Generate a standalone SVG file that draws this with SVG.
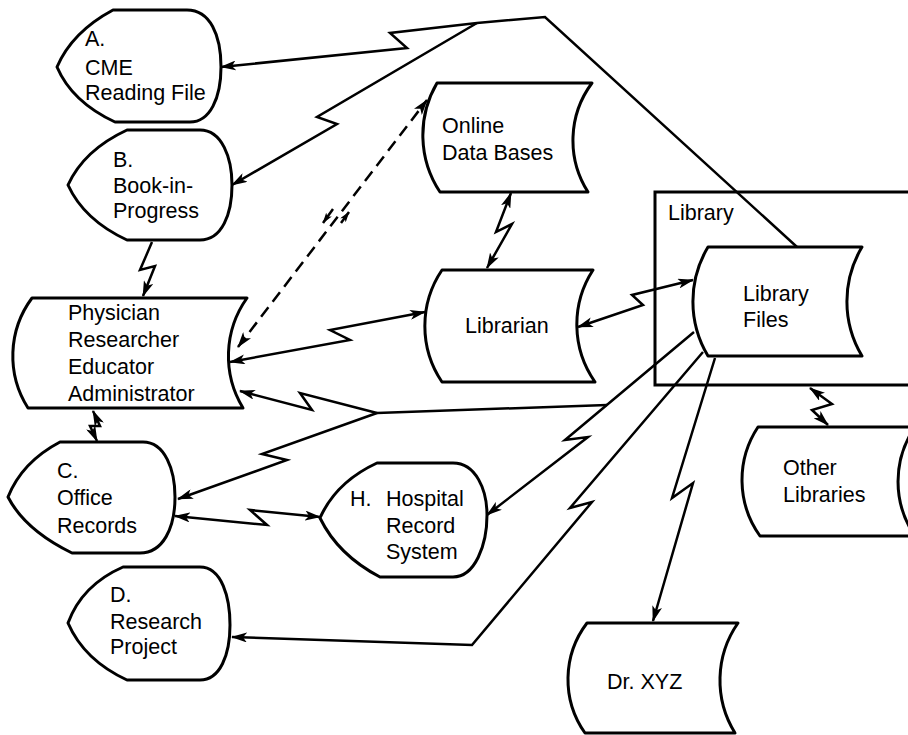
<svg xmlns="http://www.w3.org/2000/svg" width="908" height="735" viewBox="0 0 908 735">
<style>
.n{fill:#fff;stroke:#000;stroke-width:3;stroke-linejoin:round}
.box{fill:none;stroke:#000;stroke-width:3}
.c{fill:none;stroke:#000;stroke-width:2.5;stroke-linejoin:miter}
.d{stroke-dasharray:12 7}
text{font-family:"Liberation Sans",Arial,Helvetica,sans-serif;font-size:21.5px;fill:#000}
</style>
<defs>
<marker id="ah" viewBox="0 0 16 10" refX="15" refY="5" markerWidth="16" markerHeight="10" markerUnits="userSpaceOnUse" orient="auto-start-reverse"><path d="M0,0 L16,5 L0,10 L4,5 Z" fill="#000"/></marker>
<marker id="ahs" viewBox="0 0 16 10" refX="15" refY="5" markerWidth="11" markerHeight="7" markerUnits="userSpaceOnUse" orient="auto"><path d="M0,0 L16,5 L0,10 L4,5 Z" fill="#000"/></marker>
</defs>
<rect width="908" height="735" fill="#fff"/>
<g id="library">
<rect class="box" x="655" y="192" width="300" height="193"/>
<text x="668" y="220">Library</text>
</g>
<g id="connectors">
<path class="c" d="M797,247 L545,17 L477,23 L390,33 L407,48 L221,67" marker-end="url(#ah)"/>
<path class="c" d="M477,23 L317,117 L337,124 L232,185" marker-end="url(#ah)"/>
<path class="c d" d="M238,347 L427,100" marker-start="url(#ah)" marker-end="url(#ah)"/>
<path class="c" d="M333,209 L323,223" marker-end="url(#ahs)"/>
<path class="c" d="M341,223 L349,212" marker-end="url(#ahs)"/>
<path class="c" d="M230,362 L350,340 L330,330 L425,312" marker-start="url(#ah)" marker-end="url(#ah)"/>
<path class="c" d="M511,193 L496,232 L512,224 L487,268" marker-start="url(#ah)" marker-end="url(#ah)"/>
<path class="c" d="M578,327 L643,305 L632,295 L693,280" marker-start="url(#ah)" marker-end="url(#ah)"/>
<path class="c" d="M694,332 L565,440 L588,437 L487,515" marker-end="url(#ah)"/>
<path class="c" d="M607,405 L377,413"/>
<path class="c" d="M377,413 L300,393 L312,410 L240,391" marker-end="url(#ah)"/>
<path class="c" d="M377,413 L262,454 L287,460 L178,499" marker-end="url(#ah)"/>
<path class="c" d="M175,516 L267,525 L250,510 L320,517" marker-start="url(#ah)" marker-end="url(#ah)"/>
<path class="c" d="M703,352 L570,508 L592,502 L472,645 L232,637" marker-end="url(#ah)"/>
<path class="c" d="M715,358 L672,498 L693,483 L653,621" marker-end="url(#ah)"/>
<path class="c" d="M810,388 L832,404 L812,410 L828,425" marker-start="url(#ah)" marker-end="url(#ah)"/>
<path class="c" d="M152,242 L140,270 L155,266 L143,296" marker-end="url(#ah)"/>
<path class="c" d="M93,411 L100,426 L90,426 L97,441" marker-start="url(#ah)" marker-end="url(#ah)"/>
</g>
<g id="nodeA">
<path class="n" d="M113,10 L187,10 C210,10 221,35 221,67 C221,98 210,122 190,122 L115,122 Q72,102 57,67 Q72,32 113,10 Z"/>
<text x="85" y="46">A.</text><text x="85" y="75">CME</text><text x="85" y="100">Reading File</text>
</g>
<g id="nodeB">
<path class="n" d="M127,130 L200,130 C222,130 232,158 232,185 C232,214 222,240 200,240 L127,240 Q84,220 68,185 Q84,150 127,130 Z"/>
<text x="113" y="167">B.</text><text x="113" y="193">Book-in-</text><text x="113" y="218">Progress</text>
</g>
<g id="physician">
<path class="n" d="M32,298 L247,298 A100,100 0 0 0 243,408 L28,408 A97,97 0 0 1 32,298 Z"/>
<text x="68" y="320">Physician</text><text x="68" y="347">Researcher</text><text x="68" y="374">Educator</text><text x="68" y="401">Administrator</text>
</g>
<g id="online">
<path class="n" d="M437,83 L592,83 A96,96 0 0 0 588,192 L440,192 A103,103 0 0 1 437,83 Z"/>
<text x="442" y="133">Online</text><text x="442" y="160">Data Bases</text>
</g>
<g id="librarian">
<path class="n" d="M442,270 L593,270 A100,100 0 0 0 595,382 L442,382 A100,100 0 0 1 442,270 Z"/>
<text x="465" y="333">Librarian</text>
</g>
<g id="libraryFiles">
<path class="n" d="M708,247 L862,247 A106,106 0 0 0 862,356 L708,356 A106,106 0 0 1 708,247 Z"/>
<text x="743" y="301">Library</text><text x="743" y="327">Files</text>
</g>
<g id="nodeC">
<path class="n" d="M60,442 L143,442 C165,442 175,470 175,497 C175,528 163,553 140,553 L72,553 Q25,530 8,497 Q22,462 60,442 Z"/>
<text x="57" y="478">C.</text><text x="57" y="505">Office</text><text x="57" y="533">Records</text>
</g>
<g id="nodeH">
<path class="n" d="M377,463 L453,463 C476,463 487,490 487,515 C487,545 475,577 453,577 L380,577 Q338,555 320,518 Q336,482 377,463 Z"/>
<text x="350" y="506">H.</text><text x="386" y="506">Hospital</text><text x="386" y="533">Record</text><text x="386" y="559">System</text>
</g>
<g id="nodeD">
<path class="n" d="M123,567 L200,567 C222,567 230,598 230,625 C230,655 220,680 200,680 L127,680 Q84,660 68,623 Q82,585 123,567 Z"/>
<text x="110" y="602">D.</text><text x="110" y="629">Research</text><text x="110" y="654">Project</text>
</g>
<g id="otherLibraries">
<path class="n" d="M758,427 L915,427 A96,96 0 0 0 915,536 L760,536 A96,96 0 0 1 758,427 Z"/>
<text x="783" y="475">Other</text><text x="783" y="502">Libraries</text>
</g>
<g id="drXYZ">
<path class="n" d="M587,623 L738,623 A100,100 0 0 0 735,733 L585,733 A93,93 0 0 1 587,623 Z"/>
<text x="607" y="689">Dr. XYZ</text>
</g>
</svg>
